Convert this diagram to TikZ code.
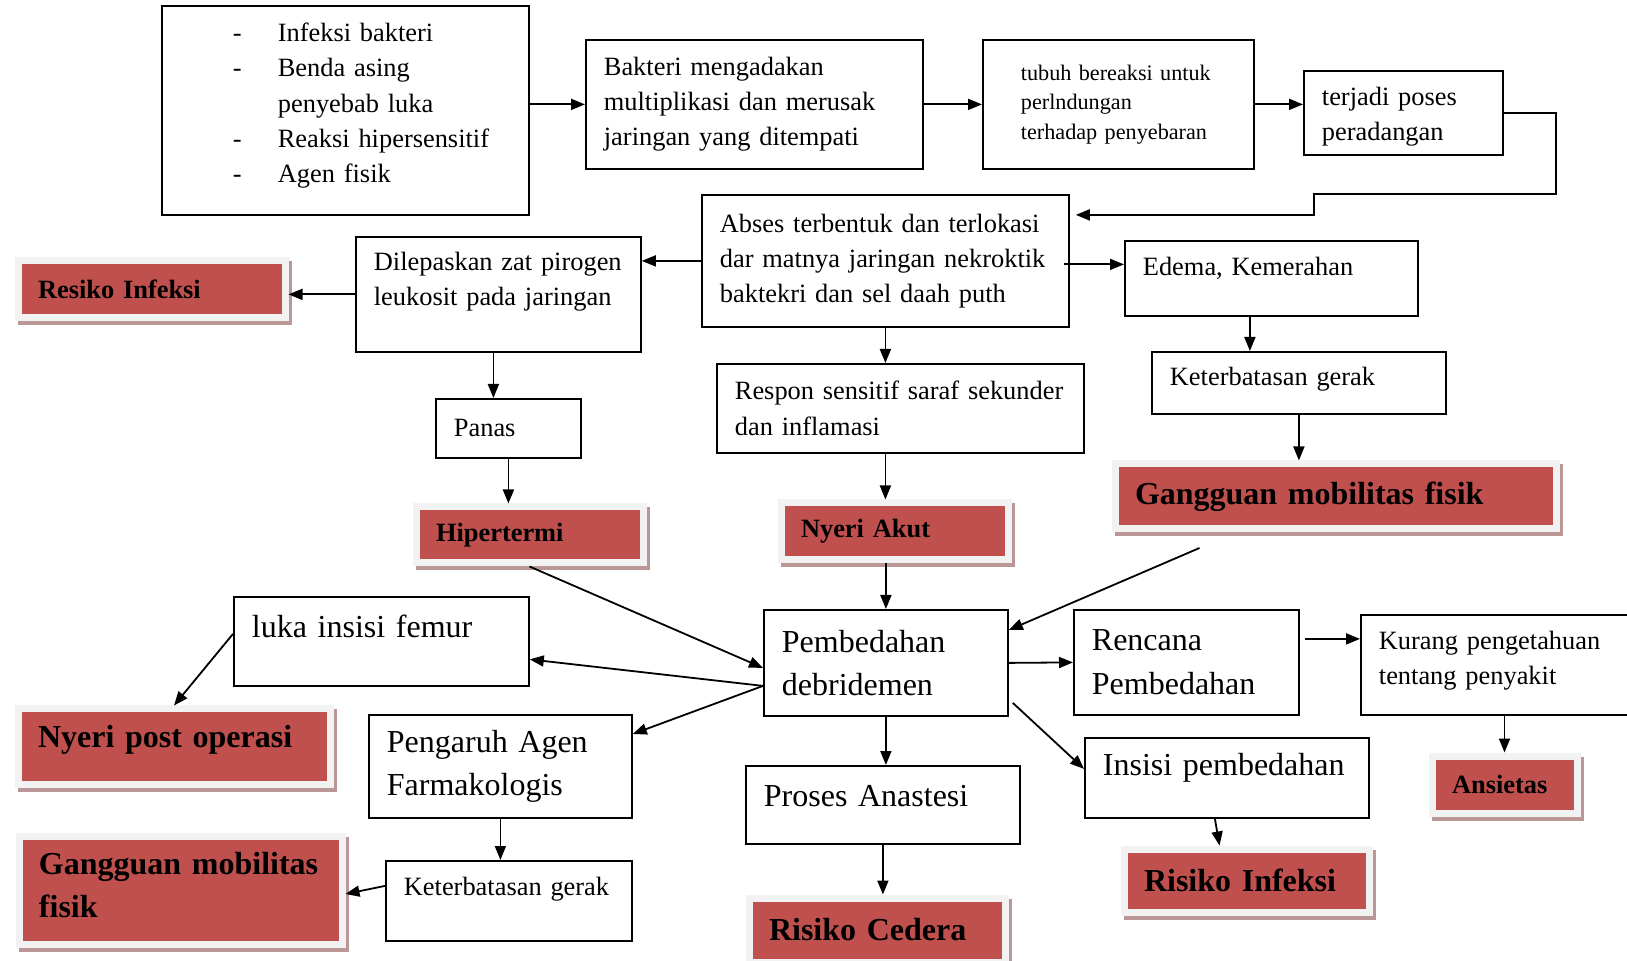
\documentclass[tikz,border=0pt]{standalone}
\usepackage{fontspec}
\setmainfont{Liberation Serif}
\usetikzlibrary{arrows.meta,shadows}
\definecolor{dxred}{RGB}{192,80,77}
\definecolor{dxframe}{RGB}{242,242,242}
\definecolor{dxshade}{RGB}{186,150,150}
\newcommand{\fsnorm}{\fontsize{13.2pt}{17.6pt}\selectfont}
\newcommand{\fsbig}{\fontsize{16pt}{21.8pt}\selectfont}
\newcommand{\fssmall}{\fontsize{11.1pt}{14.8pt}\selectfont}

\begin{document}
\begin{tikzpicture}[x=0.5pt, y=-0.5pt,
  box/.style={draw, line width=0.9pt, fill=white, anchor=north west, align=left, inner xsep=9pt, inner ysep=2pt, font=\fsnorm,
    execute at begin node={\hyphenpenalty=10000}},
  dx/.style={fill=dxred, draw=dxframe, line width=3.5pt, anchor=north west, align=left, inner xsep=10pt, inner ysep=1pt, font=\fsnorm\bfseries,
    execute at begin node={\hyphenpenalty=10000},
    drop shadow={shadow xshift=1.75pt, shadow yshift=-2pt, fill=dxshade, draw=dxshade, opacity=1}},
  arr/.style={-{Triangle[length=7pt,width=5.5pt]}, line width=0.9pt}]
\path[use as bounding box, fill=white] (0,0) rectangle (1627,961);
%\draw[help lines, color=gray!30, dashed] (0,0) grid[step=50] (1627,961);

% baris atas
\node[box, text width=165.5pt, minimum height=104.5pt, text depth=78pt] (src) at (161,5) {%
  \hspace*{26.5pt}\makebox[22.5pt][l]{-}Infeksi bakteri\\
  \hspace*{26.5pt}\makebox[22.5pt][l]{-}Benda asing\\
  \hspace*{49pt}penyebab luka\\
  \hspace*{26.5pt}\makebox[22.5pt][l]{-}Reaksi~hipersensitif\\
  \hspace*{26.5pt}\makebox[22.5pt][l]{-}Agen fisik};
\node[box, text width=150.5pt, minimum height=64.5pt] (bakteri) at (585,39)
  {Bakteri mengadakan\\multiplikasi dan~merusak\\jaringan yang ditempati};
\node[box, font=\fssmall, inner xsep=19pt, text width=97.5pt, minimum height=64.5pt] (tubuh) at (982,39)
  {tubuh bereaksi untuk\\perlndungan\\terhadap penyebaran};
\node[box, text width=81.5pt, minimum height=42pt, text depth=17pt] (radang) at (1303,70)
  {terjadi poses\\peradangan};

% baris kedua
\node[box, text width=165.5pt, minimum height=66pt] (abses) at (701,194)
  {Abses terbentuk dan terlokasi\\dar~matnya~jaringan~nekroktik\\baktekri dan sel daah puth};
\node[box, text width=124.5pt, minimum height=57.5pt, text depth=33pt] (pirogen) at (355,236)
  {Dilepaskan~zat~pirogen\\leukosit pada jaringan};
\node[dx, text width=113.5pt, minimum height=28.5pt] (resiko) at (14.5,257.5) {Resiko Infeksi};
\node[box, text width=128.5pt, minimum height=37.5pt, text depth=12pt] (edema) at (1124,240) {Edema, Kemerahan};
\node[box, text width=129pt, minimum height=31pt, text depth=7pt] (gerak) at (1151,351) {Keterbatasan~gerak};
\node[box, text width=165.5pt, minimum height=44.5pt] (respon) at (716,363)
  {Respon~sensitif~saraf~sekunder\\dan inflamasi};
\node[box, text width=54.5pt, minimum height=29.5pt] (panas) at (435,398) {Panas};

% diagnosa tengah
\node[dx, text width=93.5pt, minimum height=28pt] (hiper) at (412.5,503.5) {Hipertermi};
\node[dx, text width=93.5pt, minimum height=28.5pt] (nyeri) at (777.5,499.5) {Nyeri Akut};
\node[dx, font=\fsbig\bfseries, text width=200.5pt, minimum height=32.5pt] (mobil) at (1111.5,460.5) {Gangguan mobilitas fisik};

% pembedahan
\node[box, font=\fsbig, text width=104pt, minimum height=53pt] (bedah) at (763,609) {Pembedahan\\debridemen};
\node[box, font=\fsbig, text width=129.5pt, minimum height=44.5pt, text depth=15pt] (luka) at (233,596) {luka insisi femur};
\node[dx, font=\fsbig\bfseries, text width=136pt, minimum height=37.5pt, text depth=10.5pt] (nyeripost) at (14.5,705.5) {Nyeri~post~operasi};
\node[box, font=\fsbig, text width=113.5pt, minimum height=51.5pt] (agen) at (368,714) {Pengaruh Agen\\Farmakologis};
\node[box, text width=105pt, minimum height=40pt, text depth=15pt] (gerakbawah) at (385,860) {Keterbatasan~gerak};
\node[dx, font=\fsbig\bfseries, text width=141.5pt, minimum height=54pt, text depth=27pt] (mobilbawah) at (15.5,832.5) {Gangguan~mobilitas\\fisik};
\node[box, font=\fsbig, text width=94.5pt, minimum height=52.5pt] (rencana) at (1073,609) {Rencana\\Pembedahan};
\node[box, text width=122pt, minimum height=50pt, text depth=24.5pt] (kurang) at (1360,614) {Kurang~pengetahuan\\tentang penyakit};
\node[dx, text width=52.5pt, minimum height=28.5pt] (ansietas) at (1428.5,752.5) {Ansietas};
\node[box, font=\fsbig, text width=124pt, minimum height=40pt, text depth=13.5pt] (insisi) at (1084,737) {Insisi~pembedahan};
\node[dx, font=\fsbig\bfseries, text width=102.5pt, minimum height=31.5pt] (risiko) at (1120.5,845.5) {Risiko Infeksi};
\node[box, font=\fsbig, text width=119pt, minimum height=39pt, text depth=9pt] (anastesi) at (745,765) {Proses Anastesi};
\node[dx, font=\fsbig\bfseries, text width=108pt, minimum height=32pt] (cedera) at (745.5,894.5) {Risiko Cedera};

% panah
\draw[arr] (src.east |- bakteri.west) -- (bakteri.west);
\draw[arr] (bakteri.east) -- (tubuh.west);
\draw[arr] (tubuh.east) -- (tubuh.east -| radang.west);
\draw[arr] (radang.east) -- ++(52,0) |- (1314,194) |- ([shift={(3pt,23pt)}]abses.east);
\draw[arr] (abses.west) -- (abses.west -| pirogen.east);
\draw[arr] (pirogen.west) -- (pirogen.west -| resiko.east);
\draw[arr] ([xshift=-2.5pt]pirogen.south) -- ([xshift=-2.5pt]pirogen.south |- panas.north);
\draw[arr] (panas.south) -- (panas.south |- hiper.north);
\draw[arr] (abses.south) -- (abses.south |- respon.north);
\draw[arr] (respon.south -| abses.south) -- (abses.south |- nyeri.north);
\draw[arr] ([shift={(-3pt,-1.75pt)}]abses.east) -- ([yshift=-1.75pt]abses.east -| edema.west);
\draw[arr] ([xshift=-10.75pt]edema.south) -- ([xshift=-10.75pt]edema.south |- gerak.north);
\draw[arr] (gerak.south) -- (gerak.south |- mobil.north);
\draw[arr] (bedah.north |- nyeri.south) -- (bedah.north);
\draw[arr] ([shift={(-68pt,-7.75pt)}]mobil.south) -- ([yshift=-10.5pt]bedah.north east);
\draw[arr] (hiper.south) -- ([yshift=-2.5pt]bedah.west);
\draw[arr] ([yshift=-11.5pt]bedah.west) -- ([yshift=-9pt]luka.east);
\draw[arr] ([yshift=-11.5pt]bedah.west) -- ([yshift=-10pt]agen.north east);
\draw[arr] ([yshift=3.75pt]luka.west) -- (nyeripost.north);
\draw[arr] (agen.south) -- (agen.south |- gerakbawah.north);
\draw[arr] ([yshift=7.5pt]gerakbawah.west) -- ([yshift=-2pt]mobilbawah.east);
\draw[arr] (bedah.east) -- (rencana.west);
\draw[arr] ([shift={(2.5pt,11.75pt)}]rencana.east) -- ([yshift=11.75pt]rencana.east -| kurang.west);
\draw[arr] (ansietas.north |- kurang.south) -- (ansietas.north);
\draw[arr] ([shift={(2pt,-20pt)}]bedah.east) -- ([yshift=4.5pt]insisi.west);
\draw[arr] (bedah.south) -- (bedah.south |- anastesi.north);
\draw[arr] (anastesi.south) -- (anastesi.south |- cedera.north);
\draw[arr] ([xshift=-6pt]insisi.south) -- ([xshift=-13.5pt]risiko.north);
\end{tikzpicture}
\end{document}
